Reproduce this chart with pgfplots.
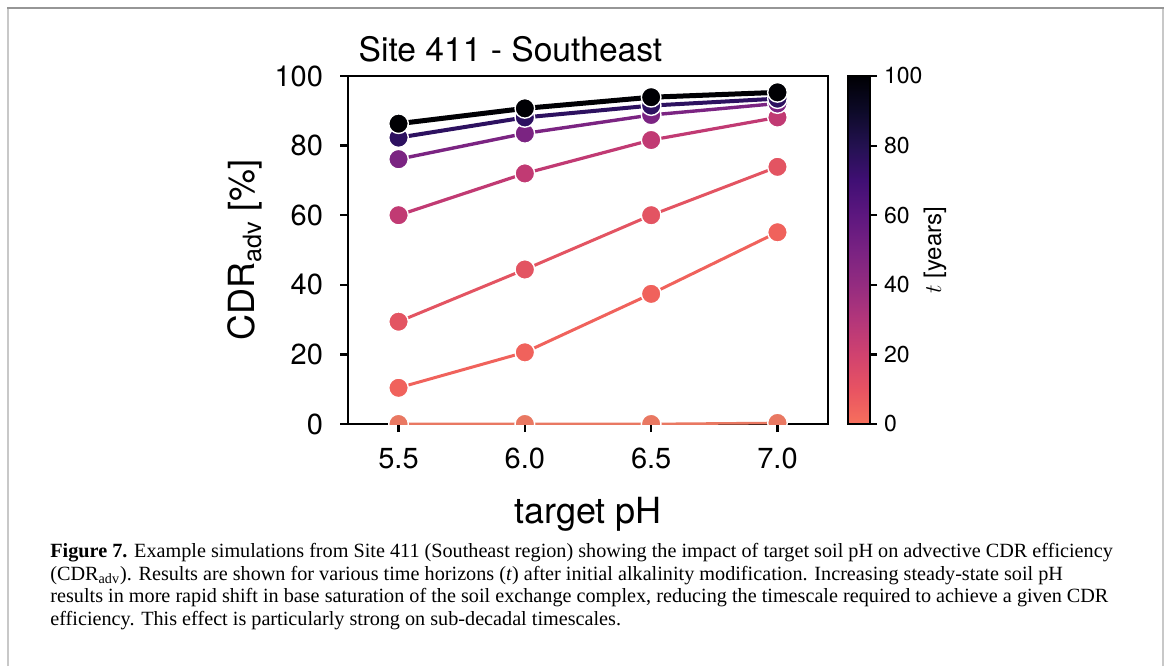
\documentclass[border=0pt]{standalone}
\usepackage{pgfplots}
\pgfplotsset{compat=1.18}
\usepackage{fontspec}
\setmainfont{TeX Gyre Heros}
\newfontfamily\capfont{Liberation Serif}
\definecolor{cT0}{RGB}{233,120,98}
\definecolor{cT5}{RGB}{240,98,92}
\definecolor{cT10}{RGB}{227,84,98}
\definecolor{cT25}{RGB}{193,58,115}
\definecolor{cT50}{RGB}{123,36,130}
\definecolor{cT75}{RGB}{45,17,96}
\definecolor{cT100}{RGB}{0,0,4}
\definecolor{frameA}{RGB}{150,150,150}
\definecolor{frameB}{RGB}{200,200,200}
\pgfplotsset{
  colormap={magmar}{rgb255=(247,112,92) rgb255=(232,83,98) rgb255=(208,66,111) rgb255=(179,54,122) rgb255=(148,44,128) rgb255=(121,34,130) rgb255=(93,23,127) rgb255=(64,15,116) rgb255=(35,17,80) rgb255=(13,10,40) rgb255=(0,0,4)},
  ser/.style 2 args={#1, line width=#2, mark=*, mark size=4.9pt,
    mark options={fill=#1, draw=white, line width=0.7pt, solid}},
}
\begin{document}
\begin{tikzpicture}
\useasboundingbox (0,0) rectangle (584.5pt,333pt);
\draw[frameB, line width=1pt] (4pt,0) -- (4pt,329pt);
\draw[frameB, line width=1pt] (581.5pt,0) -- (581.5pt,329pt);
\draw[frameA, line width=0.8pt] (3.5pt,329pt) -- (582pt,329pt);
\begin{axis}[
  at={(174pt,121pt)}, anchor=south west,
  scale only axis, width=240pt, height=174pt,
  xmin=5.3, xmax=7.2, ymin=0, ymax=100,
  xtick={5.5,6.0,6.5,7.0}, xticklabels={5.5,6.0,6.5,7.0},
  ytick={0,20,40,60,80,100},
  tick align=outside, xtick pos=bottom, ytick pos=left,
  major tick length=4pt,
  tick style={black, line width=1.2pt},
  axis line style={line width=1.25pt},
  tick label style={font=\fontsize{14.5}{16}\selectfont},
  yticklabel style={xshift=-5pt},
  xticklabel style={yshift=-4.5pt},
  /pgf/number format/assume math mode=true,
  xlabel={target pH},
  ylabel={CDR\textsubscript{adv} [\%]},
  label style={font=\fontsize{18}{20}\selectfont},
  xlabel style={at={(axis description cs:0.5,-0.287)}, anchor=base},
  ylabel style={at={(axis description cs:-0.2146,0.5)}, anchor=center},
  clip marker paths=true,
  colorbar, colormap name=magmar, point meta min=0, point meta max=100,
  colorbar style={
    at={(parent axis.north east)}, anchor=north west, xshift=1.5pt,
    scale only axis,
    width=11pt,
    ytick={0,20,40,60,80,100},
    ytick pos=right,
    tick align=outside, major tick length=3.5pt,
    tick style={black, line width=1.1pt},
    axis line style={line width=1.1pt},
    yticklabel style={font=\fontsize{11.5}{13}\selectfont},
    /pgf/number format/assume math mode=true,
    ylabel={$t$ [years]},
    ylabel style={font=\fontsize{12}{14}\selectfont, at={(axis description cs:3.95,0.5)}, anchor=center},
  },
]
\addplot[ser={cT0}{1.3pt}] coordinates {(5.5,0) (6.0,0) (6.5,0) (7.0,0.3)};
\addplot[ser={cT5}{1.5pt}] coordinates {(5.5,10.4) (6.0,20.6) (6.5,37.4) (7.0,55.1)};
\addplot[ser={cT10}{1.5pt}] coordinates {(5.5,29.4) (6.0,44.4) (6.5,60.0) (7.0,73.9)};
\addplot[ser={cT25}{1.6pt}] coordinates {(5.5,60.0) (6.0,72.0) (6.5,81.6) (7.0,88.1)};
\addplot[ser={cT50}{1.7pt}] coordinates {(5.5,76.1) (6.0,83.5) (6.5,88.8) (7.0,92.1)};
\addplot[ser={cT75}{2.0pt}] coordinates {(5.5,82.3) (6.0,88.1) (6.5,91.5) (7.0,93.5)};
\addplot[ser={cT100}{2.5pt}] coordinates {(5.5,86.3) (6.0,90.7) (6.5,93.9) (7.0,95.3)};
\end{axis}
\node[anchor=base, font=\fontsize{16.8}{18}\selectfont] at (255.25pt,302pt) {Site 411 - Southeast};
\begin{scope}[every node/.style={anchor=base west, inner sep=0pt, font=\capfont\fontsize{10.1}{11}\selectfont}]
\node at (25pt,54.5pt) {\textbf{Figure 7.} Example simulations from Site 411 (Southeast region) showing the impact of target soil pH on advective CDR efficiency};
\node at (25pt,43pt) {(CDR\textsubscript{adv}). Results are shown for various time horizons (\textit{t}) after initial alkalinity modification. Increasing steady-state soil pH};
\node at (25pt,31.7pt) {results in more rapid shift in base saturation of the soil exchange complex, reducing the timescale required to achieve a given CDR};
\node at (25pt,20.4pt) {efficiency. This effect is particularly strong on sub-decadal timescales.};
\end{scope}
\end{tikzpicture}
\end{document}
